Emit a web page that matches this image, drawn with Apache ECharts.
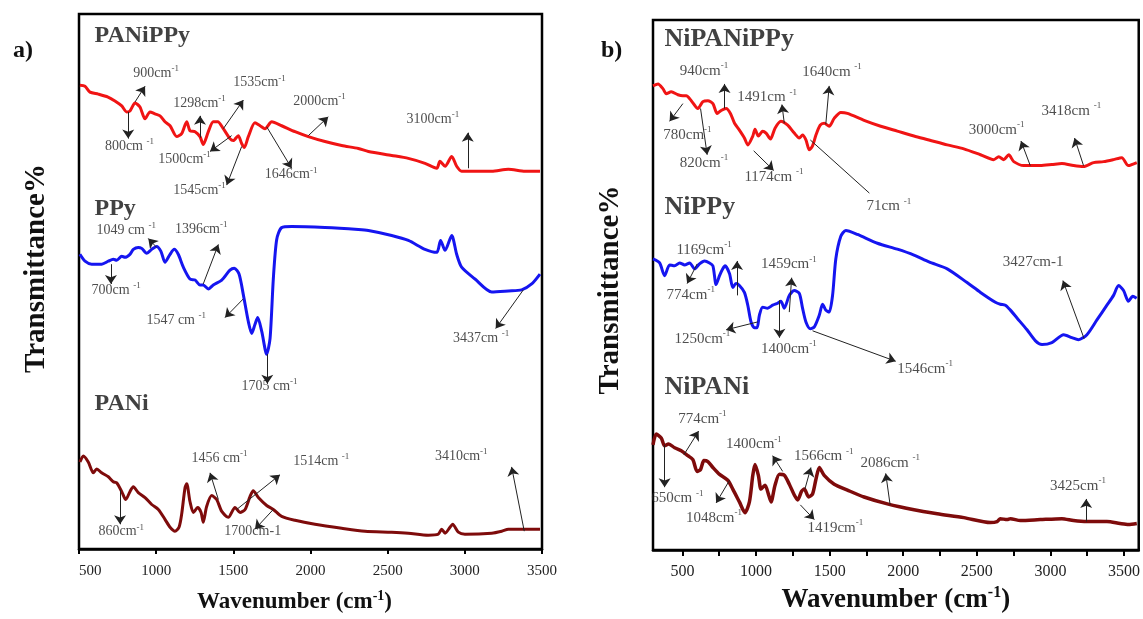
<!DOCTYPE html>
<html>
<head>
<meta charset="utf-8">
<script src="https://cdn.jsdelivr.net/npm/echarts@6/dist/echarts.min.js"></script>
<style>html,body{margin:0;padding:0;background:#fff}#c{width:1143px;height:619px}</style>
</head>
<body>
<div id="c"></div>
<script>
// ---------- tick values ----------
const leftTicks = [500, 1000, 1500, 2000, 2500, 3000, 3500];
const rightLabelTicks = [500, 1000, 1500, 2000, 2500, 3000, 3500];
const rightMinorTicks = [500, 750, 1000, 1250, 1500, 1750, 2000, 2250, 2500, 2750, 3000, 3250, 3500];

// ---------- panel a) spectra (wavenumber, transmittance in arbitrary offset units) ----------
const panippyW = [506,539,571,625,688,733,777,809,830,863,895,928,960,992,1025,1057,1090,1133,1165,1198,1219,1252,1284,1305,1338,1370,1399,1435,1478,1500,1532,1554,1571,1597,1640,1673,1705,1749,1813,1900,1986,2094,2202,2310,2375,2526,2634,2742,2818,2839,2872,2915,2947,2979,3066,3174,3282,3390,3487];
const panippyT = [469,468,462,460,457,453,448,442,443,451,447,435,442,440,438,432,428,417,420,432,423,422,417,409,422,432,432,425,415,413,418,410,406,417,431,428,425,432,428,422,417,412,408,405,402,398,395,390,385,392,387,397,387,382,382,382,384,382,382];

const ppyW = [506,539,582,647,690,722,744,777,798,830,852,884,906,939,971,1003,1031,1057,1090,1117,1143,1176,1219,1252,1284,1305,1338,1370,1425,1478,1506,1537,1565,1597,1619,1640,1658,1684,1716,1738,1759,1781,1813,1878,2094,2310,2375,2526,2634,2742,2818,2843,2872,2915,2947,2979,3066,3174,3282,3368,3433,3487];
const ppyT = [298,291,288,288,291,293,292,296,295,298,303,305,304,299,303,306,301,290,298,303,298,285,273,272,267,267,263,267,272,282,284,278,257,230,218,227,234,220,197,213,273,313,325,326,325,323,322,317,312,303,300,312,302,317,298,285,273,260,261,262,268,278];

const paniW = [506,528,560,593,615,647,690,722,744,777,803,830,852,884,928,971,1014,1057,1090,1122,1148,1165,1187,1198,1219,1241,1269,1291,1305,1327,1360,1392,1425,1467,1511,1543,1576,1608,1629,1662,1716,1759,1813,1900,2029,2202,2353,2526,2634,2763,2828,2850,2872,2904,2921,2958,3001,3174,3239,3282,3390,3487];
const paniT = [88,94,88,77,81,77,73,68,67,58,50,58,63,57,52,45,40,30,22,18,22,35,62,66,48,37,42,37,27,43,54,50,38,32,42,37,40,53,59,52,44,40,33,29,25,21,18,17,16,14,15,20,16,22,25,17,15,16,18,20,20,20];

// ---------- panel b) spectra ----------
const nipanippyW = [300,334,368,390,424,469,503,526,560,605,639,673,707,736,763,797,826,854,887,921,944,978,993,1016,1045,1068,1098,1129,1169,1215,1260,1294,1316,1339,1362,1384,1407,1436,1463,1497,1531,1576,1621,1734,1847,1960,2073,2175,2299,2412,2525,2615,2649,2683,2717,2751,2819,2931,3010,3078,3157,3225,3293,3361,3428,3485,3530,3587];
const nipanippyT = [472,474,469,464,466,463,462,462,457,449,456,457,454,444,447,449,444,434,427,419,412,421,428,421,426,424,418,429,436,432,424,419,422,417,407,411,422,432,434,431,439,445,444,437,431,426,421,417,412,408,402,397,400,397,402,395,391,391,392,393,391,390,394,395,397,399,391,394];

const nippyW = [300,345,379,413,447,481,515,549,583,616,650,684,707,729,752,774,790,820,842,864,887,921,944,966,989,1007,1023,1045,1079,1113,1147,1169,1192,1226,1260,1294,1316,1339,1369,1396,1430,1452,1474,1497,1520,1542,1576,1610,1689,1825,1960,2073,2175,2299,2434,2525,2626,2660,2694,2728,2773,2841,2897,2943,3010,3090,3146,3191,3248,3316,3384,3429,3463,3497,3530,3559,3586];
const nippyT = [296,292,279,290,289,292,290,292,286,291,294,292,289,270,279,286,289,281,267,271,269,262,249,232,226,226,239,247,246,249,251,253,246,259,264,261,246,232,225,227,239,250,244,242,259,296,319,325,321,312,306,300,293,286,272,262,252,250,249,244,236,224,213,209,211,219,216,214,219,234,249,259,269,264,253,258,256];

const nipaniW = [300,322,356,379,406,447,492,537,571,600,623,646,673,707,752,808,842,887,925,955,978,993,1016,1034,1061,1084,1102,1129,1159,1192,1226,1260,1283,1310,1328,1357,1384,1407,1430,1463,1531,1621,1734,1892,2073,2231,2412,2592,2638,2660,2706,2728,2796,2931,3078,3157,3248,3384,3473,3530,3587];
const nipaniT = [107,118,114,106,108,104,101,96,92,80,82,91,90,84,77,71,62,49,38,49,76,87,76,62,66,57,49,66,77,76,67,56,51,60,62,54,57,72,84,76,67,61,54,47,41,37,33,28,29,32,31,32,30,31,32,30,29,29,27,26,27];

// ---------- series names ----------
const namesA = [['PANiPPy', 604, 518], ['PPy', 604, 344], ['PANi', 604, 146]];
const namesB = [['NiPANiPPy', 381, 519], ['NiPPy', 381, 348], ['NiPANi', 381, 165]];

// ---------- peak annotations: text, text pos (w,T), arrow from (w,T), arrow to (w,T) ----------
const notesA = [
  ['900cm^-1', 1003,481, 863,452, 928,468],
  ['1535cm^-1', 1673,471, 1435,425, 1565,454],
  ['1298cm^-1', 1284,450, 1284,416, 1284,438],
  ['2000cm^-1', 2062,452, 1986,418, 2115,437],
  ['3100cm^-1', 2796,434, 3019,385, 3019,421],
  ['800cm ^-1', 830,407, 819,442, 819,415],
  ['1500cm^-1', 1187,394, 1489,418, 1349,402],
  ['1646cm^-1', 1878,378, 1716,427, 1878,385],
  ['1545cm^-1', 1284,362, 1554,407, 1457,368],
  ['1049 cm ^-1', 809,322, 1003,305, 949,314],
  ['1396cm^-1', 1295,323, 1305,268, 1403,308],
  ['700cm ^-1', 744,261, 707,288, 707,268],
  ['1547 cm ^-1', 1133,231, 1565,253, 1446,234],
  ['3437cm ^-1', 3109,213, 3379,262, 3200,223],
  ['1705 cm^-1', 1738,164, 1720,197, 1720,167],
  ['1456 cm^-1', 1414,91, 1403,50, 1349,77],
  ['1514cm ^-1', 2073,88, 1522,40, 1802,75],
  ['3410cm^-1', 2980,93, 3385,18, 3303,83],
  ['860cm^-1', 777,17, 766,60, 766,25],
  ['1700cm-1', 1629,17, 1759,40, 1640,20]
];
const notesB = [
  ['940cm^-1', 650,487, 786,449, 786,474],
  ['1640cm ^-1', 1520,486, 1474,433, 1497,472],
  ['1491cm ^-1', 1079,460, 1192,434, 1176,453],
  ['3418cm ^-1', 3146,446, 3225,391, 3164,419],
  ['3000cm^-1', 2638,427, 2863,391, 2800,416],
  ['780cm^-1', 537,422, 503,454, 413,436],
  ['820cm^-1', 650,393, 623,449, 668,402],
  ['1174cm ^-1', 1125,379, 984,406, 1120,386],
  ['71cm ^-1', 1906,349, 1369,417, 1770,363, 0],
  ['1169cm^-1', 650,305, 871,259, 871,294],
  ['774cm^-1', 560,259, 600,291, 532,271],
  ['1459cm^-1', 1226,290, 1226,242, 1242,277],
  ['3427cm-1', 2886,292, 3229,215, 3085,274],
  ['1250cm^-1', 639,214, 1011,232, 797,224],
  ['1400cm^-1', 1226,204, 1159,254, 1159,216],
  ['1546cm^-1', 2152,184, 1384,223, 1949,192],
  ['774cm^-1', 639,133, 510,97, 610,121],
  ['1400cm^-1', 989,107, 1181,80, 1113,96],
  ['1566cm ^-1', 1463,95, 1332,62, 1373,84],
  ['2086cm ^-1', 1915,88, 1911,46, 1881,78],
  ['3425cm^-1', 3191,65, 3243,29, 3243,52],
  ['650cm ^-1', 469,52, 379,107, 379,64],
  ['1048cm^-1', 718,32, 820,71, 729,48],
  ['1419cm^-1', 1542,22, 1301,46, 1396,31]
];

// ---------- build ----------
const FONT = "'Liberation Serif','Times New Roman',serif";
const pairs = (w, t) => w.map((x, i) => [x, t[i]]);
function richText(t) {
  const i = t.indexOf('^');
  if (i < 0) return '{n|' + t + '}';
  return '{n|' + t.slice(0, i) + '}{s|' + t.slice(i + 1) + '}';
}
function curve(w, t, color, g, width) {
  return { type: 'line', xAxisIndex: g, yAxisIndex: g, data: pairs(w, t), showSymbol: false,
    smooth: 0.25, silent: true, z: 3, lineStyle: { color: color, width: width } };
}
function notes(list, g, fs) {
  return {
    type: 'scatter', xAxisIndex: g, yAxisIndex: g, symbolSize: 1, silent: true, z: 5,
    itemStyle: { color: 'rgba(0,0,0,0)' },
    data: list.map(n => [n[1], n[2], n[0]]),
    label: { show: true, position: [0, 0], align: 'center', verticalAlign: 'middle',
      formatter: p => richText(p.data[2]),
      rich: {
        n: { fontFamily: FONT, fontSize: fs, color: '#222', lineHeight: fs + 4 },
        s: { fontFamily: FONT, fontSize: Math.round(fs * 0.62), color: '#222', lineHeight: fs + 4, verticalAlign: 'top' }
      } },
    markLine: {
      silent: true, animation: false, symbolSize: 9,
      lineStyle: { color: '#222', width: 1, type: 'solid' },
      label: { show: false }, emphasis: { disabled: true },
      data: list.map(n => [
        { coord: [n[3], n[4]], symbol: 'none' },
        { coord: [n[5], n[6]], symbol: n[7] === 0 ? 'none' : 'arrow' }
      ])
    }
  };
}
function names(list, g, fs) {
  return {
    type: 'scatter', xAxisIndex: g, yAxisIndex: g, symbolSize: 1, silent: true, z: 5,
    itemStyle: { color: 'rgba(0,0,0,0)' },
    data: list.map(n => [n[1], n[2], n[0]]),
    label: { show: true, position: [0, 0], align: 'left', verticalAlign: 'middle',
      formatter: p => p.data[2], fontFamily: FONT, fontWeight: 'bold', fontSize: fs, color: '#111' }
  };
}
const axisName = '{a|Wavenumber (cm}{s|-1}{a|)}';
function nameStyle(fs) {
  return { rich: {
    a: { fontFamily: FONT, fontWeight: 'bold', fontSize: fs, color: '#111', lineHeight: fs + 4 },
    s: { fontFamily: FONT, fontWeight: 'bold', fontSize: Math.round(fs * 0.6), color: '#111', lineHeight: fs + 4, verticalAlign: 'top' }
  } };
}
const plain = v => String(v);

const chart = echarts.init(document.getElementById('c'), null, { renderer: 'canvas' });
chart.setOption({
  animation: false,
  backgroundColor: '#fff',
  title: [
    { text: 'a)', left: 8, top: 34, textStyle: { fontFamily: FONT, fontWeight: 'bold', fontSize: 24, color: '#111' } },
    { text: 'b)', left: 596, top: 34, textStyle: { fontFamily: FONT, fontWeight: 'bold', fontSize: 24, color: '#111' } }
  ],
  grid: [
    { left: 79, top: 14, width: 463, height: 548, show: true, borderColor: '#000', borderWidth: 2.5, backgroundColor: 'transparent' },
    { left: 653, top: 20, width: 487, height: 549, show: true, borderColor: '#000', borderWidth: 2.5, backgroundColor: 'transparent' }
  ],
  xAxis: [
    { gridIndex: 0, type: 'value', min: 500, max: 3500, interval: 500,
      axisLine: { show: true, lineStyle: { color: '#000', width: 2.5 } },
      axisTick: { show: true, length: 5, lineStyle: { color: '#000', width: 2 } },
      axisLabel: { fontFamily: FONT, fontSize: 15, color: '#222', margin: 15, customValues: leftTicks, formatter: plain, alignMinLabel: 'left' },
      splitLine: { show: false },
      name: axisName, nameLocation: 'middle', nameGap: 40,
      nameTextStyle: Object.assign({ padding: [0, 32, 0, 0] }, nameStyle(23)) },
    { gridIndex: 1, type: 'value', min: 300, max: 3600,
      axisLine: { show: true, lineStyle: { color: '#000', width: 2.5 } },
      axisTick: { show: true, length: 6, lineStyle: { color: '#000', width: 2 }, customValues: rightMinorTicks },
      axisLabel: { fontFamily: FONT, fontSize: 16, color: '#222', margin: 14, customValues: rightLabelTicks, formatter: plain },
      splitLine: { show: false },
      name: axisName, nameLocation: 'middle', nameGap: 22,
      nameTextStyle: nameStyle(27) }
  ],
  yAxis: [
    { gridIndex: 0, type: 'value', min: 0, max: 541,
      axisLine: { show: false }, axisTick: { show: false }, axisLabel: { show: false }, splitLine: { show: false },
      name: 'Transmittance%', nameLocation: 'middle', nameRotate: 90, nameGap: 28,
      nameTextStyle: { fontFamily: FONT, fontWeight: 'bold', fontSize: 29, color: '#111', padding: [0, 0, 0, 26] } },
    { gridIndex: 1, type: 'value', min: 0, max: 539,
      axisLine: { show: false }, axisTick: { show: false }, axisLabel: { show: false }, splitLine: { show: false },
      name: 'Transmittance%', nameLocation: 'middle', nameRotate: 90, nameGap: 28,
      nameTextStyle: { fontFamily: FONT, fontWeight: 'bold', fontSize: 29, color: '#111', padding: [0, 10, 0, 0] } }
  ],
  series: [
    curve(panippyW, panippyT, '#f01414', 0, 3),
    curve(ppyW, ppyT, '#1515f0', 0, 3),
    curve(paniW, paniT, '#7e0b0b', 0, 3),
    curve(nipanippyW, nipanippyT, '#f01414', 1, 3),
    curve(nippyW, nippyT, '#1515f0', 1, 3),
    curve(nipaniW, nipaniT, '#7e0b0b', 1, 3.5),
    notes(notesA, 0, 14),
    notes(notesB, 1, 15),
    names(namesA, 0, 24),
    names(namesB, 1, 26)
  ]
});
</script>
</body>
</html>
